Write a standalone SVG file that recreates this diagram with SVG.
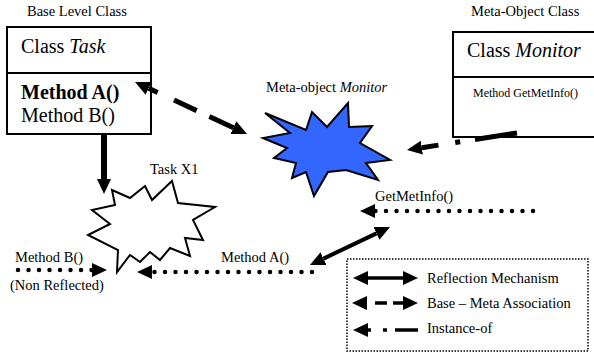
<svg xmlns="http://www.w3.org/2000/svg" width="594" height="353" viewBox="0 0 594 353">
<style>
.box{fill:#fff;stroke:#000;stroke-width:2}
.burst{stroke:#000;stroke-width:2;stroke-linejoin:miter}
.solid{fill:none;stroke:#000}
.dots{fill:none;stroke:#000;stroke-width:4.5;stroke-linecap:round;stroke-dasharray:0 10.5}
</style>
<defs>
<marker id="ah" markerUnits="userSpaceOnUse" markerWidth="16" markerHeight="15" refX="0" refY="7" orient="auto-start-reverse">
<path d="M0,0 L15,7 L0,14 z" fill="#000"/>
</marker>
</defs>
<rect width="594" height="353" fill="#fff"/>

<g id="base-class">
<text x="27" y="16" font-family="Liberation Serif" font-size="14.5">Base Level Class</text>
<rect class="box" x="7" y="27" width="144" height="107"/>
<line x1="7" y1="73" x2="151" y2="73" stroke="#000" stroke-width="2"/>
<text x="21" y="53" font-family="Liberation Serif" font-size="20">Class <tspan font-style="italic">Task</tspan></text>
<text x="21" y="99" font-family="Liberation Serif" font-size="20" font-weight="bold">Method A()</text>
<text x="21" y="122" font-family="Liberation Serif" font-size="20">Method B()</text>
</g>

<g id="meta-class">
<text x="471" y="16" font-family="Liberation Serif" font-size="14.5">Meta-Object Class</text>
<rect class="box" x="453" y="32" width="150" height="105"/>
<line x1="453" y1="77" x2="600" y2="77" stroke="#000" stroke-width="2"/>
<text x="467" y="57" font-family="Liberation Serif" font-size="20">Class <tspan font-style="italic">Monitor</tspan></text>
<text x="473" y="97" font-family="Liberation Serif" font-size="12">Method GetMetInfo()</text>
</g>

<g id="meta-object">
<text x="266" y="92" font-family="Liberation Serif" font-size="14.5">Meta-object <tspan font-style="italic">Monitor</tspan></text>
<polygon class="burst" fill="#3366ff" points="265,113 306,130 312,112 327,127 348,103 349,127 372,126 360,143 390,160 366,163 378,180 346,170 328,172 314,196 306,172 292,178 296,163 274,158 287,148 263,138 290,133"/>
</g>

<g id="task-x1">
<text x="150" y="174" font-family="Liberation Serif" font-size="14.5">Task X1</text>
<polygon class="burst" fill="#fff" points="172,181 178,203 215,207 193,220 203,240 185,238 190,256 170,248 160,260 150,252 140,262 130,255 117,272 118,250 88,235 110,224 92,210 115,205 112,190 130,198 145,186 152,200"/>
</g>

<g id="labels">
<text x="375" y="201" font-family="Liberation Serif" font-size="14.5">GetMetInfo()</text>
<text x="221" y="262" font-family="Liberation Serif" font-size="14.5">Method A()</text>
<text x="15" y="262" font-family="Liberation Serif" font-size="14.5">Method B()</text>
<text x="10" y="290" font-family="Liberation Serif" font-size="14.5">(Non Reflected)</text>
</g>

<g id="connectors">
<path class="solid" d="M104,134 L104,179" stroke-width="6" marker-end="url(#ah)"/>
<path class="solid" d="M148.6,88.3 L233.4,127.7" stroke-width="5" stroke-dasharray="10 18 25 14 30" marker-start="url(#ah)" marker-end="url(#ah)"/>
<path class="solid" d="M517,133 L421.8,147.7" stroke-width="5" stroke-dasharray="42.5 15 5 17 20" marker-end="url(#ah)"/>
<path class="solid" d="M323.5,258.6 L376.5,233.4" stroke-width="4" marker-start="url(#ah)" marker-end="url(#ah)"/>
<path class="dots" d="M533,211 L375,211" marker-end="url(#ah)"/>
<path class="dots" d="M312,272 L152,272" marker-end="url(#ah)"/>
<path class="dots" d="M18,270 L92,270" marker-end="url(#ah)"/>
</g>

<g id="legend">
<rect x="347" y="259" width="241" height="92" fill="none" stroke="#000" stroke-width="1.5" stroke-dasharray="1.5 1.5"/>
<path class="solid" d="M368,278 L403,278" stroke-width="3.5" marker-start="url(#ah)" marker-end="url(#ah)"/>
<path class="solid" d="M367,303 L403,303" stroke-width="3.5" stroke-dasharray="0 8 12 6 10" marker-start="url(#ah)" marker-end="url(#ah)"/>
<path class="solid" d="M368,330 L418,330" stroke-width="3.5" stroke-dasharray="3 12 4 8 23" marker-start="url(#ah)"/>
<text x="427" y="283" font-family="Liberation Serif" font-size="14.5">Reflection Mechanism</text>
<text x="427" y="308" font-family="Liberation Serif" font-size="14.5">Base – Meta Association</text>
<text x="427" y="333" font-family="Liberation Serif" font-size="14.5">Instance-of</text>
</g>
</svg>
